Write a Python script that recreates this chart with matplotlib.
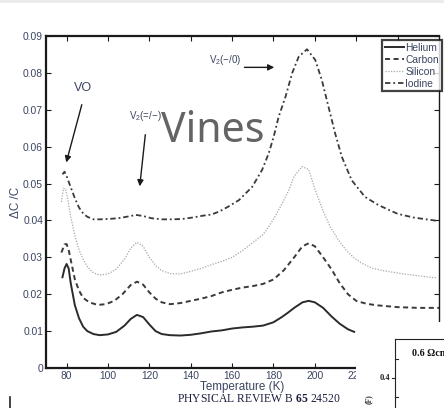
import matplotlib
matplotlib.use("Agg")
import matplotlib.pyplot as plt
from matplotlib.lines import Line2D
from matplotlib.patches import Rectangle

# ---- data: relative capacitance change vs temperature ----
helium_T = [78, 79, 80, 81, 82, 84, 86, 88, 90, 93, 96, 100, 104, 108, 111, 114, 117,
            120, 123, 126, 130, 135, 140, 145, 150, 155, 160, 165, 170, 175, 180, 184,
            187, 190, 194, 197, 200, 204, 208, 212, 216, 219]
helium_v = [0.0246, 0.0270, 0.0282, 0.0270, 0.0230, 0.0170, 0.0135, 0.0112, 0.0100,
            0.0092, 0.0089, 0.0091, 0.0098, 0.0115, 0.0133, 0.0144, 0.0138, 0.0118,
            0.0100, 0.0092, 0.0089, 0.0088, 0.0090, 0.0094, 0.0099, 0.0102, 0.0107,
            0.0110, 0.0112, 0.0115, 0.0124, 0.0138, 0.0150, 0.0163, 0.0178, 0.0182,
            0.0178, 0.0163, 0.0140, 0.0120, 0.0105, 0.0098]

carbon_T = [77.5, 79, 80, 81, 82.5, 84, 86, 88, 91, 95, 99, 103, 107, 111, 114, 117, 120,
            123, 126, 130, 135, 140, 145, 150, 155, 160, 165, 170, 175, 180, 185, 190,
            194, 197, 200, 204, 208, 212, 216, 220, 225, 230, 240, 250, 260]
carbon_v = [0.0313, 0.0335, 0.0336, 0.0320, 0.0280, 0.0240, 0.0210, 0.0190, 0.0178,
            0.0171, 0.0173, 0.0182, 0.0200, 0.0225, 0.0234, 0.0226, 0.0205, 0.0188,
            0.0178, 0.0173, 0.0176, 0.0182, 0.0188, 0.0195, 0.0205, 0.0212, 0.0218,
            0.0222, 0.0228, 0.0240, 0.0265, 0.0300, 0.0330, 0.0338, 0.0330, 0.0300,
            0.0268, 0.0230, 0.0200, 0.0182, 0.0174, 0.0170, 0.0165, 0.0163, 0.0163]

silicon_T = [77.5, 78.5, 79.5, 80.5, 82, 84, 86, 88, 90, 93, 96, 100, 104, 108, 111, 114,
             117, 120, 123, 126, 130, 135, 140, 145, 150, 155, 160, 165, 170, 175, 177.7,
             180.5, 184, 187.4, 190, 193.8, 197, 200.2, 204, 207.4, 211, 215, 219, 223,
             228, 235, 243, 250, 259]
silicon_v = [0.0450, 0.0487, 0.0485, 0.0460, 0.0410, 0.0360, 0.0320, 0.0295, 0.0275,
             0.0258, 0.0252, 0.0255, 0.0268, 0.0295, 0.0325, 0.0341, 0.0330, 0.0300,
             0.0278, 0.0264, 0.0256, 0.0255, 0.0262, 0.0270, 0.0280, 0.0289, 0.0300,
             0.0318, 0.0340, 0.0362, 0.0383, 0.0408, 0.0444, 0.0482, 0.0520, 0.0546,
             0.0538, 0.0482, 0.0425, 0.0383, 0.0350, 0.0320, 0.0298, 0.0283, 0.0270,
             0.0262, 0.0255, 0.0250, 0.0244]

iodine_T = [78, 79, 80, 82, 84, 86, 88, 90, 93, 96, 100, 105, 110, 113.5, 117, 121, 126,
            131, 136, 141, 146, 150, 153.7, 158, 163.3, 169.7, 174.5, 177.7, 180.1, 182.5,
            185.8, 189, 192.2, 196.2, 200.2, 203.4, 206.6, 209.8, 213, 217.8, 224.2,
            230.6, 236, 240, 247.6, 259]
iodine_v = [0.0525, 0.0532, 0.0520, 0.0490, 0.0460, 0.0435, 0.0419, 0.0410, 0.0403,
            0.0403, 0.0404, 0.0406, 0.0411, 0.0415, 0.0412, 0.0406, 0.0403, 0.0403,
            0.0404, 0.0408, 0.0413, 0.0416, 0.0424, 0.0437, 0.0455, 0.0491, 0.0537,
            0.0582, 0.0627, 0.0681, 0.0735, 0.0799, 0.0844, 0.0864, 0.0835, 0.0780,
            0.0708, 0.0636, 0.0573, 0.0509, 0.0464, 0.0442, 0.0428, 0.0418, 0.0408,
            0.0399]

series_names = ["Helium", "Carbon", "Silicon", "Iodine"]
x_ticks = [80, 100, 120, 140, 160, 180, 200, 220, 240]
y_ticks = [0, 0.01, 0.02, 0.03, 0.04, 0.05, 0.06, 0.07, 0.08, 0.09]
y_tick_labels = ["0", "0.01", "0.02", "0.03", "0.04", "0.05", "0.06", "0.07", "0.08", "0.09"]

# ---- fonts ----
plt.rcParams["font.family"] = ["Liberation Sans", "DejaVu Sans"]
plt.rcParams["font.sans-serif"] = ["Liberation Sans", "DejaVu Sans"]
plt.rcParams["mathtext.fontset"] = "custom"
plt.rcParams["mathtext.rm"] = "Liberation Sans"
plt.rcParams["mathtext.it"] = "Liberation Sans:italic"
plt.rcParams["mathtext.bf"] = "Liberation Serif:bold"
label_col = "#3b4560"

W, H = 444, 408
fig = plt.figure(figsize=(W / 100, H / 100), dpi=100)
fig.patch.set_facecolor("white")

def fx(px):
    return px / W

def fy(py):
    return 1 - py / H

ax = fig.add_axes([fx(45.9), fy(368), fx(439) - fx(45.9), fy(36) - fy(368)])
ax.set_xlim(70, 260)
ax.set_ylim(0, 0.09)

ax.plot(helium_T, helium_v, color="#2b2b2b", lw=1.4, ls="-", label=series_names[0])
ax.plot(carbon_T, carbon_v, color="#3a3a3a", lw=1.4, ls=(0, (2.6, 1.8)), label=series_names[1])
ax.plot(silicon_T, silicon_v, color="#a8a8a8", lw=0.9, ls=(0, (1, 1.2)), label=series_names[2])
ax.plot(iodine_T, iodine_v, color="#3a3a3a", lw=1.3, ls=(0, (3, 1.6, 1, 1.6)), label=series_names[3])

# axes styling (inward ticks on every side)
for s in ax.spines.values():
    s.set_linewidth(1.6)
    s.set_color("#1a1a1a")
ax.spines["right"].set_linewidth(1.0)
ax.set_xticks(x_ticks)
ax.set_yticks(y_ticks)
ax.set_yticklabels(y_tick_labels)
ax.tick_params(direction="in", length=3.5, width=0.8, top=True, right=True,
               colors="#1a1a1a", labelcolor=label_col, pad=2, labelsize=7.4)
ax.set_xlabel("Temperature (K)", fontsize=8.4, color=label_col, labelpad=0)
ax.set_ylabel("\u0394C /C", fontsize=8.4, color=label_col, labelpad=1)

# defect level annotations
arrow_kw = dict(arrowstyle="-|>", lw=1.0, color="#1a1a1a", mutation_scale=9)
ax.text(87.7, 0.0742, "VO", ha="center", va="bottom", fontsize=9, color=label_col)
ax.annotate("", xy=(79.5, 0.0550), xytext=(87.7, 0.0721), arrowprops=arrow_kw)
ax.text(118.2, 0.0665, r"V$_2$(=/$-$)", ha="center", va="bottom", fontsize=7,
        color=label_col)
ax.annotate("", xy=(115.2, 0.0485), xytext=(118.2, 0.0640), arrowprops=arrow_kw)
ax.text(164.6, 0.0815, r"V$_2$($-$/0)", ha="right", va="bottom", fontsize=7,
        color=label_col)
ax.annotate("", xy=(181.7, 0.0815), xytext=(164.6, 0.0815), arrowprops=arrow_kw)

leg = ax.legend(loc="upper right", bbox_to_anchor=(fx(441.5), fy(40)),
                bbox_transform=fig.transFigure, frameon=True, fancybox=False,
                fontsize=7.4, handlelength=1.9, handletextpad=0.1, borderpad=0.25,
                labelspacing=0.2, borderaxespad=0)
leg.get_frame().set_edgecolor("#111111")
leg.get_frame().set_linewidth(1.6)
for t in leg.get_texts():
    t.set_color(label_col)

# overlaid watermark word
fig.text(fx(213), fy(141.5), "Vines", fontfamily="Noto Sans", fontsize=29.5,
         color="#5c5c5c", ha="center", va="baseline", alpha=0.95)

# running header of the page below
fig.text(fx(259), fy(401.5), r"PHYSICAL REVIEW B $\mathbf{65}$ 24520",
         fontfamily="Liberation Serif", fontsize=8.4, color="#1b1e3c",
         ha="center", va="baseline")

# neighbouring panel covering the lower-right corner
fig.patches.append(Rectangle((fx(356), 0), 1 - fx(356), fy(322), transform=fig.transFigure,
                             facecolor="white", edgecolor="none", zorder=5))
panel = dict(transform=fig.transFigure, color="#222222", lw=0.8, zorder=6)
fig.lines.append(Line2D([fx(395), fx(395)], [0, fy(339)], **panel))
fig.lines.append(Line2D([fx(395), 1], [fy(339), fy(339)], **panel))
fig.lines.append(Line2D([fx(391.5), fx(395)], [fy(378), fy(378)], **panel))
fig.lines.append(Line2D([fx(395), fx(398)], [fy(397), fy(397)], **panel))
fig.lines.append(Line2D([fx(395), fx(398)], [fy(359), fy(359)], **panel))
fig.text(fx(390), fy(378), "0.4", fontfamily="Liberation Serif", fontsize=6,
         fontweight="bold", color="#222222", ha="right", va="center", zorder=7)
fig.text(fx(412), fy(353.5), "0.6 \u03a9cm", fontfamily="Liberation Serif", fontsize=7.2,
         fontweight="bold", color="#111111", ha="left", va="center", zorder=7)
fig.text(fx(369), fy(404), "(F)", fontfamily="Liberation Serif", fontsize=5.5,
         fontweight="bold", color="#333333", rotation=90, ha="center", va="bottom",
         zorder=7)

# thin grey strip along the top edge and stray mark at the lower left
fig.patches.append(Rectangle((0, fy(3)), 1, fy(0) - fy(3), transform=fig.transFigure,
                             facecolor="#ececec", edgecolor="none", zorder=0))
fig.lines.append(Line2D([fx(10), fx(10)], [0, fy(397)], transform=fig.transFigure,
                        color="#222222", lw=1.2, zorder=6))

fig.savefig("out.png", dpi=100)
